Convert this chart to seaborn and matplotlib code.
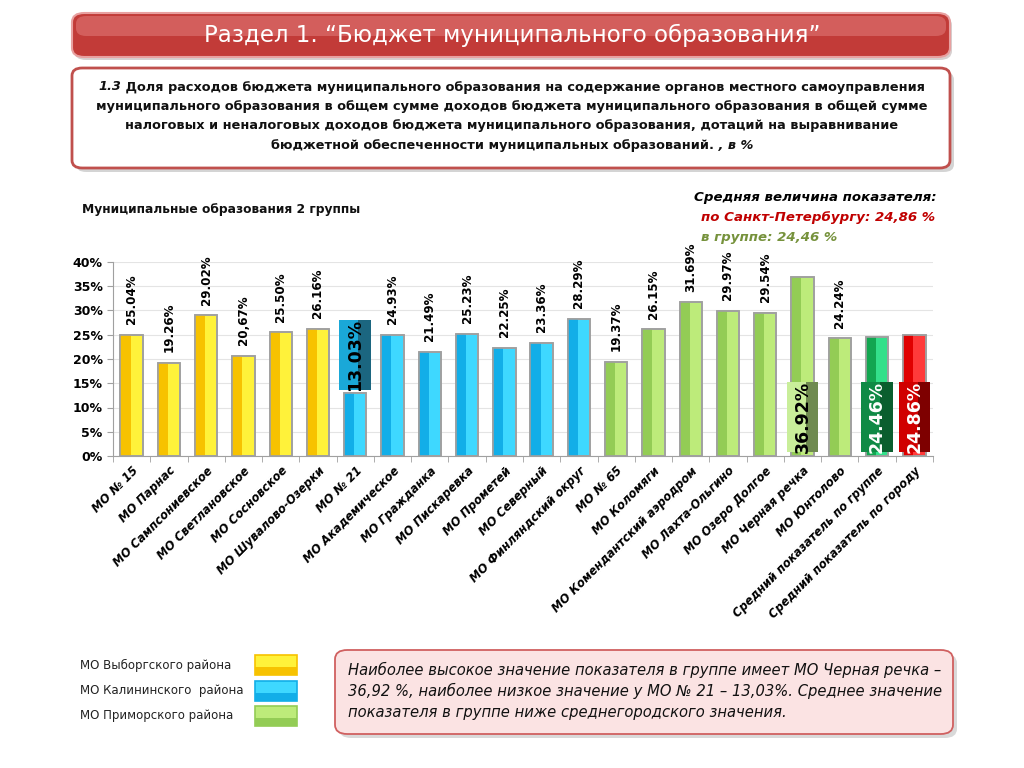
import matplotlib
matplotlib.use("Agg")
import matplotlib.pyplot as plt
import seaborn as sns
import pandas as pd
from matplotlib.patches import FancyBboxPatch, Rectangle
from matplotlib.ticker import PercentFormatter

# data
names = ["МО № 15", "МО Парнас", "МО Сампсониевское", "МО Светлановское",
         "МО Сосновское", "МО Шувалово-Озерки", "МО № 21", "МО Академическое",
         "МО Гражданка", "МО Пискаревка", "МО Прометей", "МО Северный",
         "МО Финляндский округ", "МО № 65", "МО Коломяги",
         "МО Комендантский аэродром", "МО Лахта-Ольгино", "МО Озеро Долгое",
         "МО Черная речка", "МО Юнтолово", "Средний показатель по группе",
         "Средний показатель по городу"]
values = [25.04, 19.26, 29.02, 20.67, 25.50, 26.16, 13.03, 24.93, 21.49,
          25.23, 22.25, 23.36, 28.29, 19.37, 26.15, 31.69, 29.97, 29.54,
          36.92, 24.24, 24.46, 24.86]
value_labels = ["25.04%", "19.26%", "29.02%", "20,67%", "25.50%", "26.16%",
                "13.03%", "24.93%", "21.49%", "25.23%", "22.25%", "23.36%",
                "28.29%", "19.37%", "26.15%", "31.69%", "29.97%", "29.54%",
                "36.92%", "24.24%", "24.46%", "24.86%"]
groups = ["v"] * 6 + ["k"] * 7 + ["p"] * 7 + ["avg", "city"]
highlighted = {6, 18, 20, 21}

light = {"v": "#FFF23A", "k": "#3ED8FF", "p": "#BDEB7A", "avg": "#33E08A", "city": "#FF3A3A"}
dark = {"v": "#F7C200", "k": "#12AEE8", "p": "#93CC55", "avg": "#12A650", "city": "#E00000"}
box_face = {6: "#1AA8D8", 18: "#C9EE9A", 20: "#0F8A45", 21: "#D00000"}
box_side = {6: "#1B6680", 18: "#6F8A50", 20: "#0A5E2E", 21: "#7E0000"}
box_text = {6: "black", 18: "black", 20: "white", 21: "white"}

df = pd.DataFrame({"name": names, "value": values})

W, H = 1024, 768
fig = plt.figure(figsize=(W / 100, H / 100), dpi=100)
fig.patch.set_facecolor("white")
renderer = fig.canvas.get_renderer()


def fx(x):
    return x / W


def fy(y):
    return 1 - y / H


# header banner
fig.patches.append(FancyBboxPatch((fx(74), fy(60)), fx(878), 44 / H,
                                  boxstyle="round,pad=0,rounding_size=0.012",
                                  transform=fig.transFigure, facecolor="#B0A0A0",
                                  edgecolor="none", alpha=0.5, zorder=0))
fig.patches.append(FancyBboxPatch((fx(72), fy(57)), fx(878), 44 / H,
                                  boxstyle="round,pad=0,rounding_size=0.012",
                                  transform=fig.transFigure, facecolor="#C23B38",
                                  edgecolor="#E8A0A0", lw=1.5, zorder=1))
fig.patches.append(FancyBboxPatch((fx(76), fy(36)), fx(870), 20 / H,
                                  boxstyle="round,pad=0,rounding_size=0.01",
                                  transform=fig.transFigure, facecolor="#E88A88",
                                  edgecolor="none", alpha=0.45, zorder=2))
fig.text(0.5, fy(35), "Раздел 1. “Бюджет муниципального образования”",
         ha="center", va="center", color="white", fontsize=16.5, zorder=3)

# subtitle box
fig.patches.append(FancyBboxPatch((fx(76), fy(172)), fx(878), 100 / H,
                                  boxstyle="round,pad=0,rounding_size=0.01",
                                  transform=fig.transFigure, facecolor="#B8B8B8",
                                  edgecolor="none", alpha=0.6, zorder=0))
fig.patches.append(FancyBboxPatch((fx(72), fy(168)), fx(878), 100 / H,
                                  boxstyle="round,pad=0,rounding_size=0.01",
                                  transform=fig.transFigure, facecolor="white",
                                  edgecolor="#C0504D", lw=2, zorder=1))
sub_lines = [
    " Доля расходов бюджета муниципального образования на содержание органов местного самоуправления",
    "муниципального образования в общем сумме доходов бюджета муниципального образования в общей сумме",
    "налоговых и неналоговых доходов бюджета муниципального образования, дотаций на выравнивание",
    "бюджетной обеспеченности муниципальных образований.",
]
sub_fs = 9.3
first_pre = fig.text(0, 0, "1.3", fontsize=sub_fs, fontweight="bold", style="italic")
pre_w = first_pre.get_window_extent(renderer).width / W
first_pre.remove()
tail = fig.text(0, 0, " , в %", fontsize=sub_fs, fontweight="bold", style="italic")
tail_w = tail.get_window_extent(renderer).width / W
tail.remove()
for i, line in enumerate(sub_lines):
    t = fig.text(0, fy(87 + i * 19.5), line, ha="left", va="center",
                 fontsize=sub_fs, fontweight="bold", color="#111111", zorder=3)
    lw_ = t.get_window_extent(renderer).width / W
    extra_l = pre_w if i == 0 else 0
    extra_r = tail_w if i == 3 else 0
    x0 = 0.5 - (lw_ + extra_l + extra_r) / 2
    t.set_x(x0 + extra_l)
    if i == 0:
        fig.text(x0, fy(87), "1.3", ha="left", va="center", fontsize=sub_fs,
                 fontweight="bold", style="italic", color="#111111", zorder=3)
    if i == 3:
        fig.text(x0 + lw_, fy(87 + i * 19.5), " , в %", ha="left", va="center",
                 fontsize=sub_fs, fontweight="bold", style="italic",
                 color="#111111", zorder=3)

# chart captions
fig.text(fx(82), fy(210), "Муниципальные образования 2 группы", fontsize=8.8,
         fontweight="bold", va="center", color="#111111")
fig.text(fx(937), fy(198), "Средняя величина показателя:", ha="right", va="center",
         fontsize=9.6, fontweight="bold", style="italic", color="black")
fig.text(fx(935), fy(218), "по Санкт-Петербургу: 24,86 %", ha="right", va="center",
         fontsize=9.6, fontweight="bold", style="italic", color="#C00000")
fig.text(fx(701), fy(238), "в группе: 24,46 %", ha="left", va="center",
         fontsize=9.6, fontweight="bold", style="italic", color="#76923C")

# chart
ax = fig.add_axes([fx(113), fy(456), fx(820), 194 / H])
sns.barplot(data=df, x="name", y="value", hue="name", ax=ax, legend=False,
            palette=[light[g] for g in groups], width=0.6,
            edgecolor="#A0A0A0", linewidth=1.2, saturation=1, zorder=2)

for i, p in enumerate(ax.patches[:len(values)]):
    g = groups[i]
    x0, w, h = p.get_x(), p.get_width(), p.get_height()
    ax.add_patch(Rectangle((x0, 0), w * 0.45, h, facecolor=dark[g],
                           edgecolor="none", zorder=2.5))
    ax.add_patch(Rectangle((x0, 0), w, h, facecolor="none",
                           edgecolor="#A0A0A0", lw=1.2, zorder=2.6))
    cx = x0 + w / 2
    if i in highlighted:
        if i == 6:
            y0, y1 = 13.6, 28.0
        else:
            y0, y1 = 0.8, 15.2
        bw = 0.85
        ax.add_patch(Rectangle((cx - bw / 2, y0), bw, y1 - y0, facecolor=box_side[i],
                               edgecolor="none", zorder=4))
        ax.add_patch(Rectangle((cx - bw / 2, y0), bw * 0.6, y1 - y0, facecolor=box_face[i],
                               edgecolor="none", zorder=4.1))
        ax.text(cx, (y0 + y1) / 2, value_labels[i], rotation=90, ha="center",
                va="center", fontsize=12.5, fontweight="bold", color=box_text[i], zorder=5)
    else:
        ax.text(cx, h + 2.2, value_labels[i], rotation=90, ha="center", va="bottom",
                fontsize=8.6, fontweight="bold", color="black", zorder=5)

ax.set_ylim(0, 40)
ax.set_xlim(-0.5, len(values) - 0.5)
ax.yaxis.set_major_formatter(PercentFormatter(decimals=0))
ax.set_yticks(range(0, 41, 5))
ax.set_xlabel("")
ax.set_ylabel("")
ax.grid(axis="y", color="#E4E4E4", lw=0.8, zorder=0)
ax.set_axisbelow(True)
for s in ["top", "right"]:
    ax.spines[s].set_visible(False)
for s in ["left", "bottom"]:
    ax.spines[s].set_color("#A0A0A0")
ax.set_xticks(range(len(values)))
ax.set_xticks([i + 0.5 for i in range(-1, len(values))], minor=True)
ax.tick_params(axis="x", which="major", length=0, pad=6)
ax.tick_params(axis="x", which="minor", length=4, color="#A0A0A0")
ax.tick_params(axis="y", length=4, color="#A0A0A0", labelsize=9)
for t in ax.get_yticklabels():
    t.set_fontweight("bold")
ax.set_xticklabels(names, rotation=45, ha="right", rotation_mode="anchor",
                   fontsize=8.3, fontweight="bold", style="italic")

# legend
leg_labels = ["МО Выборгского района", "МО Калининского  района", "МО Приморского района"]
leg_keys = ["v", "k", "p"]
for i, (lab, k) in enumerate(zip(leg_labels, leg_keys)):
    yc = 665 + i * 25.5
    fig.text(fx(80), fy(yc), lab, fontsize=8.5, va="center", color="#222222")
    fig.patches.append(Rectangle((fx(255), fy(yc + 10)), fx(42), 20 / H,
                                 transform=fig.transFigure, facecolor=light[k],
                                 edgecolor=dark[k], lw=1.2))
    fig.patches.append(Rectangle((fx(255), fy(yc + 10)), fx(42), 8 / H,
                                 transform=fig.transFigure, facecolor=dark[k],
                                 edgecolor="none"))

# conclusion box
fig.patches.append(FancyBboxPatch((fx(339), fy(738)), fx(618), 84 / H,
                                  boxstyle="round,pad=0,rounding_size=0.012",
                                  transform=fig.transFigure, facecolor="#C0C0C0",
                                  edgecolor="none", alpha=0.6, zorder=0))
fig.patches.append(FancyBboxPatch((fx(335), fy(734)), fx(618), 84 / H,
                                  boxstyle="round,pad=0,rounding_size=0.012",
                                  transform=fig.transFigure, facecolor="#FBE3E3",
                                  edgecolor="#D06060", lw=1.3, zorder=1))
concl = ["Наиболее высокое значение показателя в группе имеет МО Черная речка –",
         "36,92 %, наиболее низкое значение у МО № 21 – 13,03%. Среднее значение",
         "показателя в группе ниже среднегородского значения."]
for i, line in enumerate(concl):
    fig.text(fx(348), fy(670 + i * 21), line, fontsize=10.6, style="italic",
             va="center", color="#111111", zorder=3)

fig.savefig("out.png", dpi=100)
